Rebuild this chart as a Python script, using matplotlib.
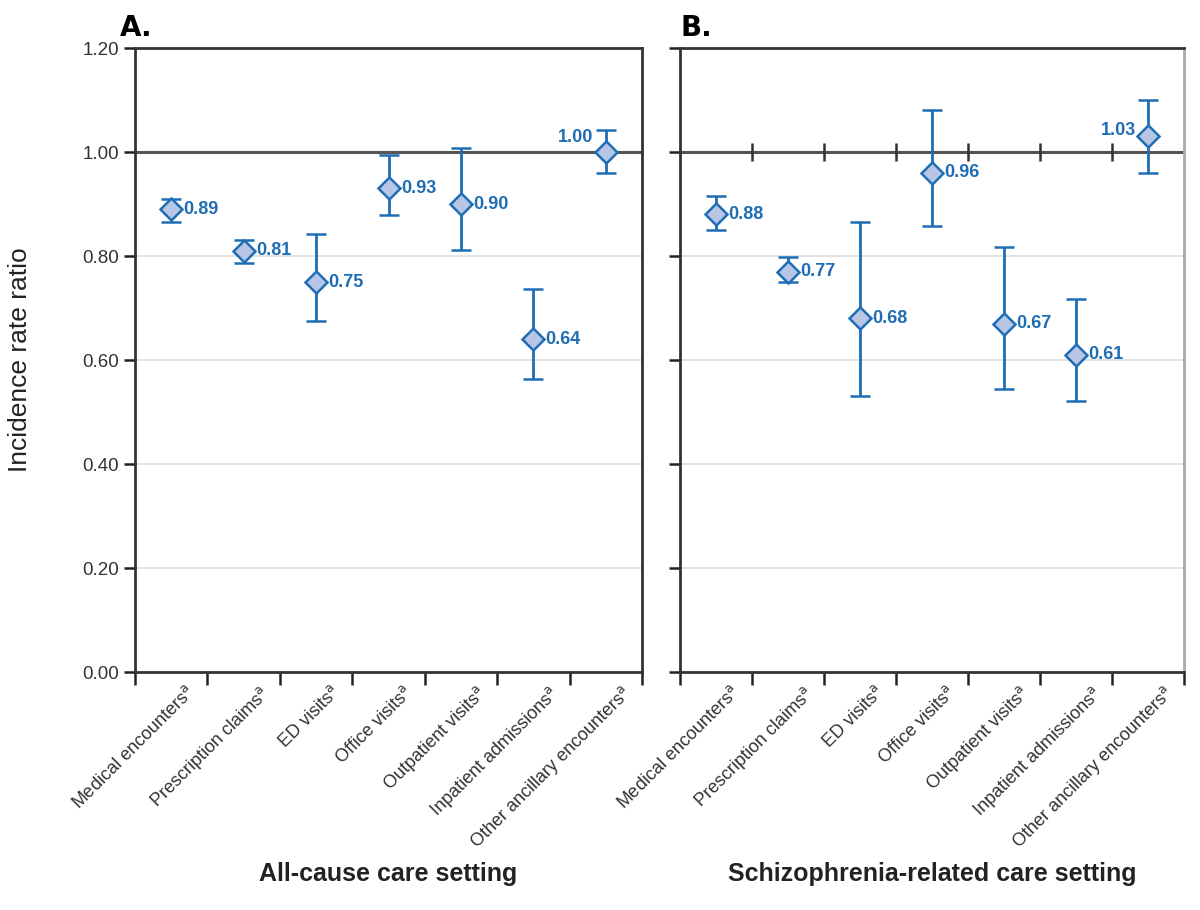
import numpy as np
import matplotlib.pyplot as plt

plt.rcParams['font.family'] = ['Liberation Sans Narrow', 'Liberation Sans', 'DejaVu Sans']

categories = ['Medical encounters', 'Prescription claims', 'ED visits', 'Office visits',
              'Outpatient visits', 'Inpatient admissions', 'Other ancillary encounters']

# panel A: all-cause
irr_a = [0.89, 0.81, 0.75, 0.93, 0.90, 0.64, 1.00]
low_a = [0.865, 0.786, 0.675, 0.879, 0.812, 0.563, 0.960]
high_a = [0.910, 0.830, 0.842, 0.994, 1.008, 0.737, 1.042]

# panel B: schizophrenia-related
irr_b = [0.88, 0.77, 0.68, 0.96, 0.67, 0.61, 1.03]
low_b = [0.850, 0.750, 0.530, 0.858, 0.545, 0.522, 0.960]
high_b = [0.915, 0.798, 0.865, 1.080, 0.817, 0.718, 1.100]

blue = '#1f6db4'
fill = '#b8c6e6'

fig = plt.figure(figsize=(12, 9.1), dpi=100)
ax_a = fig.add_axes([0.1125, 0.2615, 0.4225, 0.6857])
ax_b = fig.add_axes([0.5667, 0.2615, 0.42, 0.6857])


def draw_panel(ax, irr, low, high, xlabel, letter, is_b):
    n = len(irr)
    x = np.arange(n) + 0.5
    irr = np.array(irr)
    err = [irr - np.array(low), np.array(high) - irr]

    for yv in [0.2, 0.4, 0.6, 0.8]:
        ax.axhline(yv, color='#dddddd', lw=1.2, zorder=0)
    ax.axhline(1.0, color='#555555', lw=2.2, zorder=1)

    ax.errorbar(x, irr, yerr=err, fmt='D', color=blue, ms=11, mfc=fill, mec=blue,
                mew=1.8, elinewidth=2, capsize=7, capthick=2, zorder=3)

    for i, v in enumerate(irr):
        if i == n - 1:
            ax.text(x[i] - 0.17, v + 0.012, f'{v:.2f}', color=blue, fontsize=13,
                    fontweight='bold', ha='right', va='bottom' if not is_b else 'center')
        else:
            ax.text(x[i] + 0.17, v, f'{v:.2f}', color=blue, fontsize=13,
                    fontweight='bold', ha='left', va='center')

    if is_b:
        ax.plot(np.arange(1, n), np.ones(n - 1), ls='none', marker='|', ms=13,
                mew=1.8, color='#333333', zorder=2)

    ax.set_xlim(0, n)
    ax.set_ylim(0, 1.2)
    ax.set_xticks(np.arange(n + 1))
    ax.set_xticklabels([])
    # labels sit a bit right of the category centre, like the original
    ax.set_xticks(x + 0.2, minor=True)
    ax.set_xticklabels([c + '$^{\\mathrm{a}}$' for c in categories], minor=True,
                       rotation=45, ha='right', rotation_mode='anchor', fontsize=13,
                       color='#333333')
    ax.tick_params(axis='x', which='major', direction='out', length=9, width=1.8,
                   color='#222222')
    ax.tick_params(axis='x', which='minor', length=0, pad=8)
    ax.set_yticks(np.arange(0, 1.21, 0.2))
    ax.tick_params(axis='y', direction='out', length=8, width=1.8, color='#222222',
                   labelsize=13.5, labelcolor='#333333')
    if is_b:
        ax.set_yticklabels([])
    else:
        ax.set_yticklabels([f'{t:.2f}' for t in np.arange(0, 1.21, 0.2)])
        ax.set_ylabel('Incidence rate ratio', fontsize=19, color='#222222', labelpad=36)

    for s in ['left', 'top', 'bottom']:
        ax.spines[s].set_linewidth(2)
        ax.spines[s].set_color('#333333')
    ax.spines['right'].set_linewidth(2)
    ax.spines['right'].set_color('#aaaaaa' if is_b else '#333333')

    ax.set_xlabel(xlabel, fontsize=18, fontweight='bold', color='#222222', labelpad=6)
    ax.text(-0.03 if not is_b else 0.0, 1.01, letter, transform=ax.transAxes,
            fontsize=20, fontweight='heavy', family='DejaVu Sans', ha='left', va='bottom')


draw_panel(ax_a, irr_a, low_a, high_a, 'All-cause care setting', 'A.', False)
draw_panel(ax_b, irr_b, low_b, high_b, 'Schizophrenia-related care setting', 'B.', True)

fig.savefig('out.png', dpi=100)
